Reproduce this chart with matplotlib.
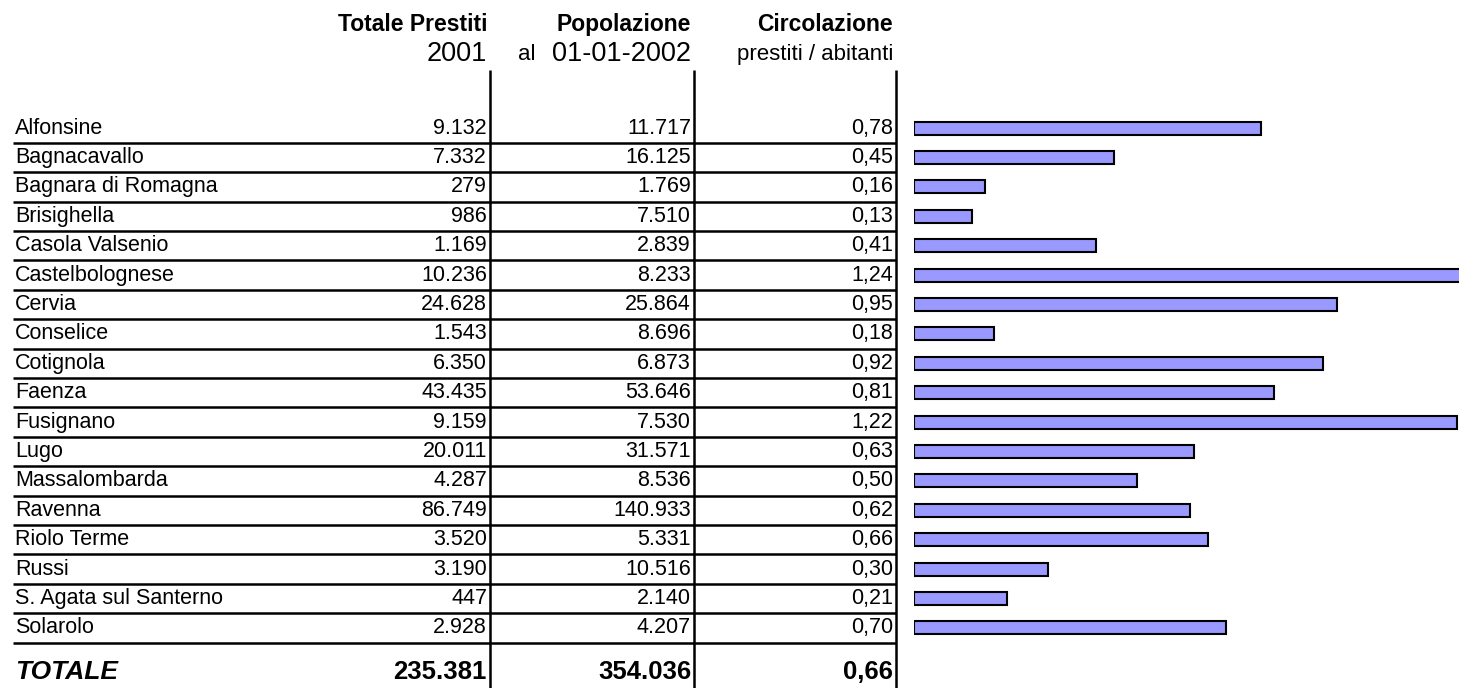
import numpy as np
import matplotlib
matplotlib.use('Agg')
import matplotlib.pyplot as plt

plt.rcParams['font.family'] = ['Liberation Sans', 'DejaVu Sans']

comuni = ['Alfonsine', 'Bagnacavallo', 'Bagnara di Romagna', 'Brisighella',
          'Casola Valsenio', 'Castelbolognese', 'Cervia', 'Conselice',
          'Cotignola', 'Faenza', 'Fusignano', 'Lugo', 'Massalombarda',
          'Ravenna', 'Riolo Terme', 'Russi', 'S. Agata sul Santerno', 'Solarolo']
prestiti = [9132, 7332, 279, 986, 1169, 10236, 24628, 1543, 6350, 43435,
            9159, 20011, 4287, 86749, 3520, 3190, 447, 2928]
popolazione = [11717, 16125, 1769, 7510, 2839, 8233, 25864, 8696, 6873, 53646,
               7530, 31571, 8536, 140933, 5331, 10516, 2140, 4207]
circolazione = [0.78, 0.45, 0.16, 0.13, 0.41, 1.24, 0.95, 0.18, 0.92, 0.81,
                1.22, 0.63, 0.50, 0.62, 0.66, 0.30, 0.21, 0.70]
tot_prestiti = 235381
tot_popolazione = 354036
tot_circolazione = 0.66


def migliaia(v):
    return f'{v:,}'.replace(',', '.')


def decimale(v):
    return f'{v:.2f}'.replace('.', ',')


W, H = 1459, 688
y0, dy = 128.0, 29.4          # centro prima riga e passo in pixel
ytop = (0 - y0) / dy
ybot = (H - y0) / dy

fig = plt.figure(figsize=(W / 100, H / 100), dpi=100)
ax = fig.add_axes([0, 0, 1, 1])
ax.set_xlim(0, W)
ax.set_ylim(ybot, ytop)
ax.axis('off')

n = len(comuni)
righe = np.arange(n)
x_nome, x_c1, x_c2, x_c3 = 15, 487, 691, 893
v_lines = [490, 694, 896]
fs = 15.5

# intestazioni
yh1 = (24 - y0) / dy
yh2 = (54 - y0) / dy
fh = 16.5
ax.text(x_c1, yh1, 'Totale Prestiti', ha='right', va='center', fontsize=fh, fontweight='bold')
ax.text(x_c1, yh2, '2001', ha='right', va='center', fontsize=19.5)
ax.text(x_c2, yh1, 'Popolazione', ha='right', va='center', fontsize=fh, fontweight='bold')
ax.text(518, yh2, 'al', ha='left', va='center', fontsize=16)
ax.text(x_c2, yh2, '01-01-2002', ha='right', va='center', fontsize=19.5)
ax.text(x_c3, yh1, 'Circolazione', ha='right', va='center', fontsize=fh, fontweight='bold')
ax.text(x_c3, yh2, 'prestiti / abitanti', ha='right', va='center', fontsize=16)

# righe della tabella
for i in righe:
    ax.text(x_nome, i, comuni[i], ha='left', va='center', fontsize=fs)
    ax.text(x_c1, i, migliaia(prestiti[i]), ha='right', va='center', fontsize=fs)
    ax.text(x_c2, i, migliaia(popolazione[i]), ha='right', va='center', fontsize=fs)
    ax.text(x_c3, i, decimale(circolazione[i]), ha='right', va='center', fontsize=fs)

ax.hlines(righe + 0.5, 13, 896, color='black', lw=1.8)

# totale
yt = (672 - y0) / dy
ax.text(x_nome, yt, 'TOTALE', ha='left', va='center', fontsize=19,
        fontweight='bold', fontstyle='italic')
ax.text(x_c1, yt, migliaia(tot_prestiti), ha='right', va='center', fontsize=18.5, fontweight='bold')
ax.text(x_c2, yt, migliaia(tot_popolazione), ha='right', va='center', fontsize=18.5, fontweight='bold')
ax.text(x_c3, yt, decimale(tot_circolazione), ha='right', va='center', fontsize=18.5, fontweight='bold')

ax.vlines(v_lines, (70 - y0) / dy, ybot, color='black', lw=1.8)

# barre
bx = 914
scala = 445.0  # pixel per unita'
ax2 = fig.add_axes([bx / W, 0, (W - bx) / W, 1])
ax2.set_xlim(0, (W - bx) / scala)
ax2.set_ylim(ybot, ytop)
ax2.axis('off')
ax2.barh(righe, circolazione, height=13 / dy, left=0, color='#9999ff',
         edgecolor='black', linewidth=1.5, align='center')

fig.savefig('out.png', dpi=100)
